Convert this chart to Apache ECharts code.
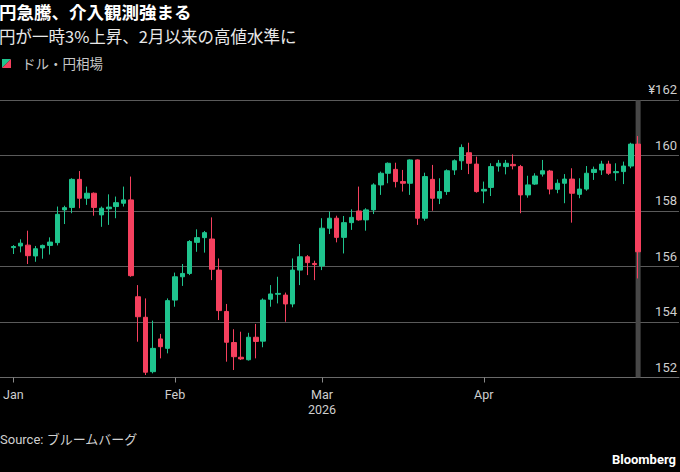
<!DOCTYPE html>
<html><head><meta charset="utf-8">
<script src="https://cdn.jsdelivr.net/npm/echarts@6/dist/echarts.min.js"></script>
<style>html,body{margin:0;padding:0;background:#000;}#c{width:680px;height:472px;}</style>
</head><body><div id="c"></div>
<script>
// ---- data (trading days, OHLC in yen per dollar) ----
const dates = [
'2026-01-01','2026-01-02','2026-01-05','2026-01-06','2026-01-07','2026-01-08','2026-01-09','2026-01-12','2026-01-13','2026-01-14','2026-01-15','2026-01-16','2026-01-19','2026-01-20','2026-01-21','2026-01-22','2026-01-23','2026-01-26','2026-01-27','2026-01-28','2026-01-29','2026-01-30',
'2026-02-02','2026-02-03','2026-02-04','2026-02-05','2026-02-06','2026-02-09','2026-02-10','2026-02-11','2026-02-12','2026-02-13','2026-02-16','2026-02-17','2026-02-18','2026-02-19','2026-02-20','2026-02-23','2026-02-24','2026-02-25','2026-02-26','2026-02-27',
'2026-03-02','2026-03-03','2026-03-04','2026-03-05','2026-03-06','2026-03-09','2026-03-10','2026-03-11','2026-03-12','2026-03-13','2026-03-16','2026-03-17','2026-03-18','2026-03-19','2026-03-20','2026-03-23','2026-03-24','2026-03-25','2026-03-26','2026-03-27','2026-03-30','2026-03-31',
'2026-04-01','2026-04-02','2026-04-03','2026-04-06','2026-04-07','2026-04-08','2026-04-09','2026-04-10','2026-04-13','2026-04-14','2026-04-15','2026-04-16','2026-04-17','2026-04-20','2026-04-21','2026-04-22','2026-04-23','2026-04-24','2026-04-27','2026-04-28','2026-04-29','2026-04-30'
];
const openVals = [
156.68,156.74,156.77,156.38,156.67,156.76,156.86,158.04,158.13,159.14,158.46,158.64,157.86,158.08,158.16,158.28,158.40,154.91,154.17,152.21,153.39,153.05,
154.79,155.63,155.75,156.87,157.04,156.99,155.87,154.38,153.26,152.73,152.64,153.45,153.31,154.82,155.00,154.97,154.65,155.87,156.35,156.11,
156.02,157.38,157.74,157.05,157.58,158.00,157.68,158.04,158.94,159.36,159.50,159.06,159.00,159.84,157.74,159.14,158.46,158.70,159.48,159.81,160.10,159.69,
158.72,158.85,159.62,159.60,159.68,159.60,158.58,158.97,159.33,159.44,158.78,159.00,159.15,158.60,158.79,159.39,159.48,159.69,159.38,159.42,159.62,160.41
];
const closeVals = [
156.72,156.84,156.39,156.64,156.76,156.88,157.88,158.12,159.14,158.46,158.64,158.13,158.10,158.14,158.30,158.40,155.67,154.19,152.19,153.05,153.11,154.77,
155.63,155.75,156.90,157.04,157.22,155.90,154.41,153.27,152.75,152.67,153.45,153.30,154.79,155.01,155.03,154.65,155.87,156.35,156.14,156.07,
157.38,157.74,157.05,157.58,157.77,157.68,158.04,158.94,159.36,159.72,159.06,159.00,159.84,157.74,159.24,158.46,158.70,159.45,159.81,160.29,159.72,158.70,
158.78,159.60,159.72,159.72,159.63,158.58,158.94,159.26,159.45,158.79,159.00,159.15,158.64,158.79,159.36,159.50,159.69,159.36,159.42,159.62,160.41,156.53
];
const lowVals = [
156.45,156.51,156.09,156.17,156.28,156.43,156.76,157.53,157.92,158.10,158.22,157.83,157.43,157.50,157.74,158.16,155.63,153.29,152.09,152.15,152.69,152.87,
154.55,155.30,155.69,156.53,156.50,155.51,154.07,152.57,152.27,152.63,152.61,152.69,153.09,154.55,154.67,154.01,154.53,155.33,155.69,155.51,
155.87,157.17,156.87,156.47,157.32,157.65,157.29,157.89,158.58,159.00,158.85,158.70,158.58,157.50,157.65,158.01,158.25,158.58,159.30,159.48,159.33,158.66,
158.28,158.54,159.42,159.32,159.50,157.92,158.48,158.94,159.24,158.60,158.64,158.28,157.58,158.46,158.73,159.12,159.30,159.30,159.09,158.97,159.54,155.57
];
const highVals = [
156.77,156.98,157.29,156.74,156.79,157.05,158.16,158.19,159.18,159.44,158.88,158.67,158.16,158.60,158.52,158.88,159.24,155.33,154.85,154.05,153.57,154.85,
155.78,156.09,156.95,157.34,157.28,157.77,156.29,154.65,153.74,153.65,153.61,153.93,154.85,155.33,155.63,155.06,156.29,156.81,156.41,156.21,
157.74,157.98,157.83,157.82,158.06,158.88,158.10,159.00,159.42,159.75,159.74,159.48,159.86,159.86,159.38,159.66,159.18,159.50,159.86,160.40,160.46,159.96,
159.06,159.72,159.84,159.84,160.04,159.66,159.27,159.36,159.84,159.48,159.14,159.33,159.54,159.18,159.62,159.60,159.81,159.81,159.72,159.78,160.46,160.70
];
const monthLabels = {'2026-01-01':'Jan','2026-02-02':'Feb','2026-03-02':'Mar','2026-04-01':'Apr'};
const yearLabels = {'2026-03-02':'2026'};
const highlightDate = '2026-04-30';
const yMin = 152, yMax = 162, yStep = 2;
const titleText = '円急騰、介入観測強まる';
const subtitleText = '円が一時3%上昇、2月以来の高値水準に';
const legendText = 'ドル・円相場';
const sourceText = 'Source: ブルームバーグ';
const brandText = 'Bloomberg';

// ---- chart ----
const F = "Roboto, 'Noto Sans CJK JP', sans-serif";
const CJK = "'Noto Sans CJK JP', sans-serif";
const UP = '#1fc48e', DOWN = '#f5405e';
const candles = dates.map((d, i) => [openVals[i], closeVals[i], lowVals[i], highVals[i]]);
const highlight = dates.map(d => d === highlightDate ? yMax : '-');
const showIdx = (i, v) => monthLabels[v] !== undefined;

const chart = echarts.init(document.getElementById('c'), null, {renderer: 'svg'});
chart.setOption({
  backgroundColor: '#000',
  animation: false,
  title: {
    text: titleText, subtext: subtitleText, left: -1, top: 1, itemGap: 3, padding: 0,
    textStyle: {color: '#ffffff', fontSize: 17.5, fontWeight: 'bold', lineHeight: 21, fontFamily: CJK},
    subtextStyle: {color: '#e8e8e8', fontSize: 16.5, lineHeight: 22, fontFamily: CJK}
  },
  grid: [
    {left: 0, right: 0, top: 100, height: 277.5},
    {left: 6.3, right: 38.2, top: 100, height: 277.5}
  ],
  xAxis: [
    {gridIndex: 0, type: 'value', min: 0, max: 1,
     axisLine: {show: true, onZero: false, lineStyle: {color: '#6a6a6a', width: 1}},
     axisTick: {show: false}, axisLabel: {show: false}, splitLine: {show: false}},
    {gridIndex: 1, type: 'category', data: dates, boundaryGap: true,
     axisLine: {show: false},
     axisTick: {show: true, alignWithLabel: true, interval: showIdx, length: 5, lineStyle: {color: '#8a8a8a'}},
     axisLabel: {interval: showIdx, color: '#cfcfcf', fontSize: 12.5, lineHeight: 15, margin: 9, fontFamily: F,
       formatter: (v) => yearLabels[v] ? monthLabels[v] + '\n' + yearLabels[v] : (monthLabels[v] || '')},
     splitLine: {show: false}}
  ],
  yAxis: [
    {gridIndex: 0, type: 'value', position: 'right', min: yMin, max: yMax, interval: yStep,
     axisLine: {show: false}, axisTick: {show: false},
     splitLine: {show: true, lineStyle: {color: '#5a5a5a', width: 1}},
     axisLabel: {inside: true, align: 'right', verticalAlign: 'bottom', margin: 2, padding: [0, 0, 4, 0],
       color: '#cfcfcf', fontSize: 13, fontFamily: F,
       formatter: (v) => v === yMax ? '¥' + v : String(v)}},
    {gridIndex: 1, type: 'value', min: yMin, max: yMax, show: false}
  ],
  series: [
    {type: 'bar', xAxisIndex: 1, yAxisIndex: 1, data: highlight, barWidth: 5, z: 1,
     itemStyle: {color: '#474747'}, silent: true, emphasis: {disabled: true}, clip: true},
    {type: 'candlestick', xAxisIndex: 1, yAxisIndex: 1, data: candles, z: 3,
     barWidth: 5,
     itemStyle: {color: UP, color0: DOWN, borderColor: UP, borderColor0: DOWN, borderWidth: 1},
     emphasis: {disabled: true}}
  ],
  graphic: [
    {type: 'polygon', shape: {points: [[2, 59], [11, 59], [2, 68]]}, style: {fill: UP}},
    {type: 'polygon', shape: {points: [[11, 59], [11, 68], [2, 68]]}, style: {fill: DOWN}},
    {type: 'text', left: 22, top: 56, style: {text: legendText, fill: '#c8c8c8', font: "13.5px " + CJK}},
    {type: 'text', left: 0, top: 433, style: {text: sourceText, fill: '#d0d0d0', font: "13px " + F}},
    {type: 'text', right: 4, top: 453, style: {text: brandText, fill: '#ffffff', font: "bold 13px " + F}}
  ]
});
</script>
</body></html>
